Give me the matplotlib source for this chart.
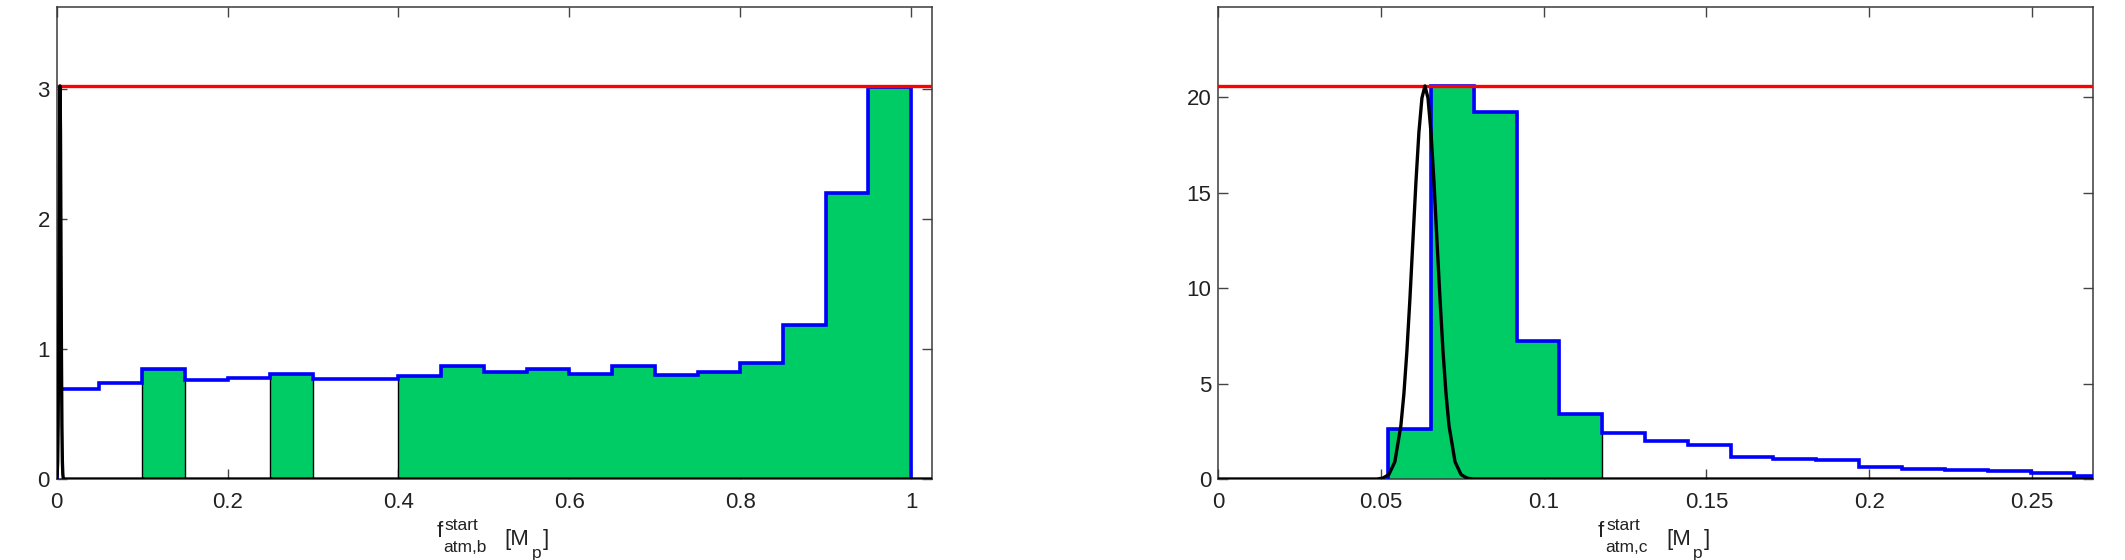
import numpy as np
import matplotlib
matplotlib.use("Agg")
import matplotlib.pyplot as plt
from matplotlib.transforms import ScaledTranslation

plt.rcParams['font.family'] = ['Liberation Sans', 'DejaVu Sans']

# ---------------- data ----------------
# left panel: f_atm,b
b_edges = [0.0, 0.05, 0.10, 0.15, 0.20, 0.25, 0.30, 0.35, 0.40, 0.45, 0.50,
           0.55, 0.60, 0.65, 0.70, 0.75, 0.80, 0.85, 0.90, 0.95, 1.00]
b_values = [0.694, 0.740, 0.842, 0.760, 0.778, 0.804, 0.770, 0.770, 0.789, 0.866,
            0.822, 0.847, 0.810, 0.866, 0.796, 0.824, 0.889, 1.182, 2.200, 3.010]
b_green = [False, False, True, False, False, True, False, False, True, True,
           True, True, True, True, True, True, True, True, True, True]
b_curve_x = [0.0, 0.0006, 0.00115, 0.0017, 0.00225, 0.0028, 0.00335, 0.0039,
             0.00445, 0.0050, 0.00555, 0.0061, 0.00665, 0.0072, 0.0078, 1.025]
b_curve_y = [0.0, 0.034, 0.132, 0.409, 0.980, 1.832, 2.665, 3.020,
             2.665, 1.832, 0.980, 0.409, 0.132, 0.034, 0.0, 0.0]
b_max = 3.02
b_xticks = [0, 0.2, 0.4, 0.6, 0.8, 1.0]
b_xticklabels = ['0', '0.2', '0.4', '0.6', '0.8', '1']
b_yticks = [0, 1, 2, 3]
b_xlim = 1.024
b_label = ['f', 'start', 'atm,b', '[M', 'p', ']']

# right panel: f_atm,c
c_edges = [0.0522, 0.0654, 0.0785, 0.0917, 0.1048, 0.1180, 0.1311, 0.1443,
           0.1575, 0.1706, 0.1838, 0.1969, 0.2101, 0.2233, 0.2364, 0.2496,
           0.2628, 0.2759]
c_values = [2.60, 20.60, 19.25, 7.25, 3.42, 2.39, 1.99, 1.76, 1.14, 1.07,
            1.00, 0.65, 0.52, 0.45, 0.42, 0.30, 0.17]
c_green = [True, True, True, True, True, False, False, False, False, False,
           False, False, False, False, False, False, False]
c_curve_x = [0.0, 0.0487, 0.05055, 0.05240, 0.05425, 0.0561, 0.05703, 0.05795,
             0.05888, 0.0598, 0.06073, 0.06165, 0.06258, 0.0635, 0.06443,
             0.06535, 0.06628, 0.0672, 0.06813, 0.06905, 0.06998, 0.0709,
             0.07275, 0.0746, 0.07645, 0.0783, 0.27]
c_curve_y = [0.0, 0.0, 0.045, 0.23, 0.90, 2.79, 4.46, 6.69, 9.43, 12.49, 15.55,
             18.18, 19.97, 20.60, 19.97, 18.18, 15.55, 12.49, 9.43, 6.69, 4.46,
             2.79, 0.90, 0.23, 0.045, 0.0, 0.0]
c_max = 20.6
c_xticks = [0, 0.05, 0.10, 0.15, 0.20, 0.25]
c_xticklabels = ['0', '0.05', '0.1', '0.15', '0.2', '0.25']
c_yticks = [0, 5, 10, 15, 20]
c_xlim = 0.2687
c_label = ['f', 'start', 'atm,c', '[M', 'p', ']']

GREEN = '#00cc66'
TXT = '#222222'

# label piece layout (pixel offsets from the axes bottom-centre: dx, dy-down, fontsize)
label_layout = [(-57.5, 58.0, 16), (-49.5, 50.5, 12.5), (-50.5, 73.0, 12.5),
                (10.5, 66.0, 16), (37.5, 79.0, 12.5), (48.5, 66.0, 16)]

fig = plt.figure(figsize=(21.25, 5.6), dpi=100)
ax1 = fig.add_axes([0.02668, 0.14464, 0.41177, 0.84232])
ax2 = fig.add_axes([0.57332, 0.14464, 0.41148, 0.84232])


def panel(ax, edges, values, green, cx, cy, vmax, xticks, xtl, yticks, xlim, label):
    edges = np.asarray(edges)
    values = np.asarray(values)
    # green filled groups
    i = 0
    n = len(values)
    while i < n:
        if green[i]:
            j = i
            while j + 1 < n and green[j + 1]:
                j += 1
            ax.stairs(values[i:j + 1], edges[i:j + 2], fill=True,
                      facecolor=GREEN, edgecolor='black', linewidth=1.0, zorder=2)
            i = j + 1
        else:
            i += 1
    ax.stairs(values, edges, baseline=0, color='blue', linewidth=2.6, zorder=3)
    ax.axhline(vmax, color='red', linewidth=2.4, zorder=4)
    ax.plot(cx, cy, color='black', linewidth=2.4, zorder=5, solid_joinstyle='round')
    ax.set_xlim(0, xlim)
    ax.set_ylim(0, 1.2 * vmax)
    ax.set_xticks(xticks)
    ax.set_xticklabels(xtl)
    ax.set_yticks(yticks)
    ax.tick_params(direction='in', top=True, right=True, length=7, width=1,
                   color='#444444', labelsize=16, labelcolor=TXT)
    ax.tick_params(axis='x', pad=9)
    ax.tick_params(axis='y', pad=5)
    for s in ax.spines.values():
        s.set_color('#3a3a3a')
        s.set_linewidth(1.1)
    # TeX-like axis label built from pieces (base, superscript, subscript ...)
    for piece, (dx, dy, fs) in zip(label, label_layout):
        tr = ax.transAxes + ScaledTranslation(dx / 100.0, -dy / 100.0, fig.dpi_scale_trans)
        ax.text(0.5, 0.0, piece, transform=tr, ha='left', va='baseline',
                fontsize=fs, color=TXT, clip_on=False)


panel(ax1, b_edges, b_values, b_green, b_curve_x, b_curve_y, b_max,
      b_xticks, b_xticklabels, b_yticks, b_xlim, b_label)
panel(ax2, c_edges, c_values, c_green, c_curve_x, c_curve_y, c_max,
      c_xticks, c_xticklabels, c_yticks, c_xlim, c_label)

fig.savefig('out.png', dpi=100)
